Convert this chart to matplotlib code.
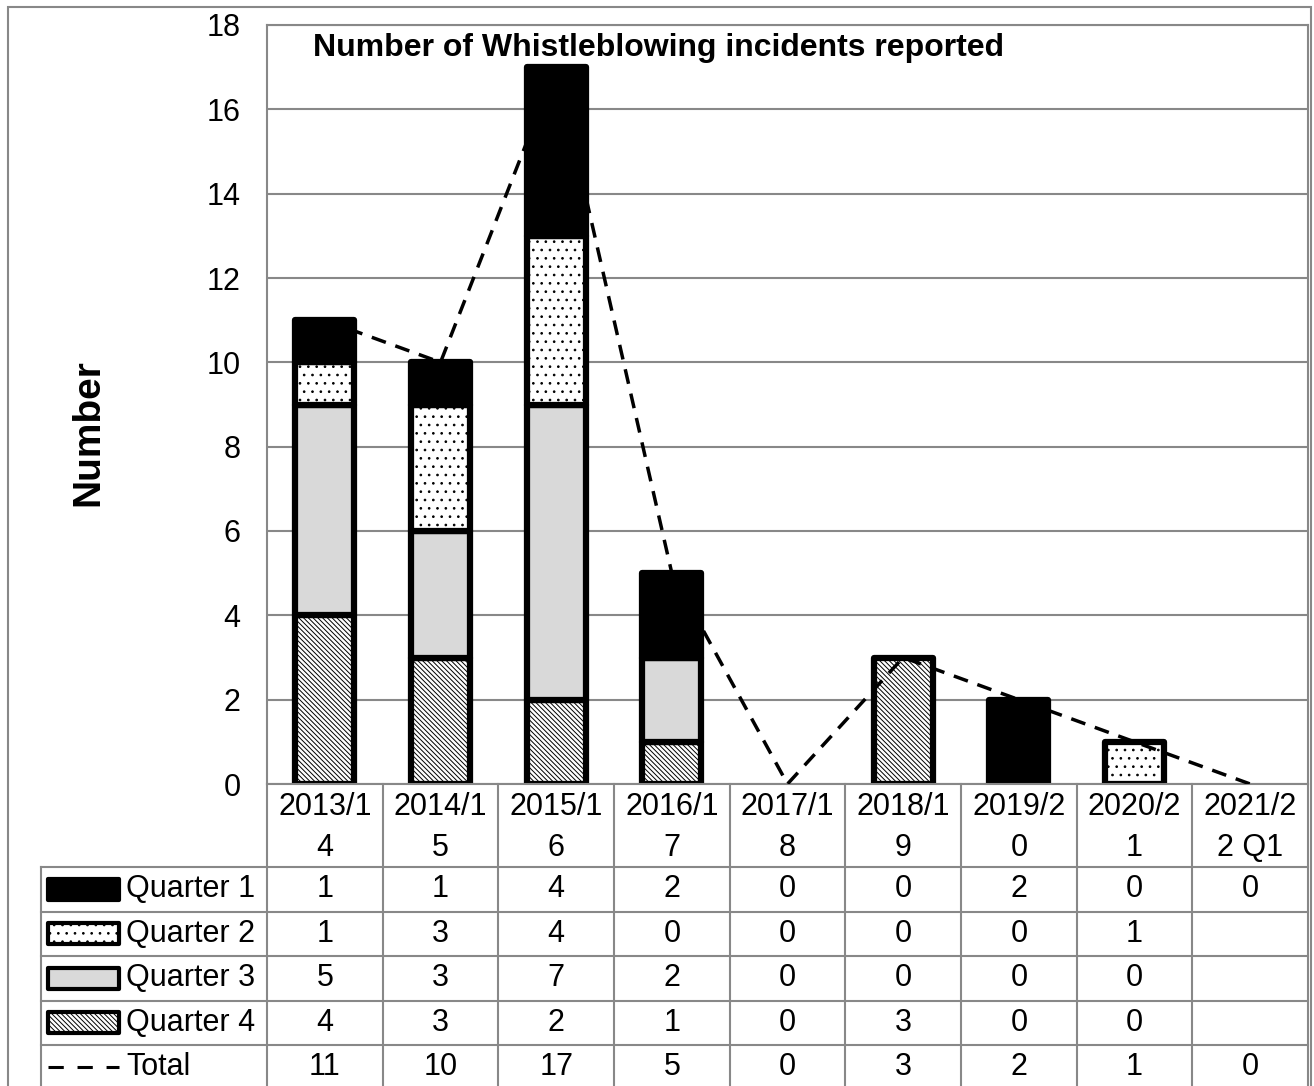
import numpy as np
import matplotlib
matplotlib.use('Agg')
import matplotlib.pyplot as plt
from matplotlib.patches import Rectangle
from matplotlib.lines import Line2D
from matplotlib.transforms import blended_transform_factory

plt.rcParams['font.family'] = ['Liberation Sans', 'DejaVu Sans']
plt.rcParams['hatch.linewidth'] = 0.7

years = ['2013/14', '2014/15', '2015/16', '2016/17', '2017/18',
         '2018/19', '2019/20', '2020/21', '2021/22 Q1']
q1 = [1, 1, 4, 2, 0, 0, 2, 0, 0]
q2 = [1, 3, 4, 0, 0, 0, 0, 1, None]
q3 = [5, 3, 7, 2, 0, 0, 0, 0, None]
q4 = [4, 3, 2, 1, 0, 3, 0, 0, None]
total = [11, 10, 17, 5, 0, 3, 2, 1, 0]

series_names = ['Quarter 1', 'Quarter 2', 'Quarter 3', 'Quarter 4']
series_vals = [q1, q2, q3, q4]
faces = ['black', 'white', '#d9d9d9', 'white']
hatches = [None, '..', None, '\\' * 7]

W, H = 1314, 1086
fig = plt.figure(figsize=(W / 100, H / 100), dpi=100)
GRAY = '#888888'
FS = 22

# plot area (pixel layout of the original)
left, right, top, bottom = 267, 1308, 25, 784
ax = fig.add_axes([left / W, 1 - bottom / H, (right - left) / W, (bottom - top) / H])
x = np.arange(len(years))
ax.set_xlim(-0.5, len(years) - 0.5)
ax.set_ylim(0, 18)
ax.set_yticks(np.arange(0, 19, 2))
ax.set_xticks([])
ax.tick_params(axis='y', length=0, labelsize=FS, pad=19)
ax.grid(axis='y', color=GRAY, lw=1.5)
ax.set_axisbelow(True)
for s in ax.spines.values():
    s.set_color(GRAY)
    s.set_linewidth(1.5)

# stacked bars: Quarter 4 at the bottom, Quarter 1 on top
stack_order = [3, 2, 1, 0]
base = np.zeros(len(years))
for k in stack_order:
    vals = np.array([v if v is not None else 0 for v in series_vals[k]], dtype=float)
    for i in range(len(years)):
        if vals[i] > 0:
            ax.bar(x[i], vals[i], bottom=base[i], width=0.51, color=faces[k],
                   edgecolor='black', linewidth=4.5, hatch=hatches[k],
                   joinstyle='round', zorder=2)
    base += vals

# total line
ax.plot(x, total, color='black', lw=2.5, linestyle=(0, (4.3, 2.9)), zorder=3)

fig.text(313 / W, 1 - 48 / H, 'Number of Whistleblowing incidents reported',
         fontsize=23, fontweight='bold', ha='left', va='center')
fig.text(88 / W, 1 - 433 / H, 'Number', fontsize=28, fontweight='bold',
         rotation=90, ha='center', va='center')

# data table below the plot
tr = blended_transform_factory(ax.transData, fig.transFigure)
def fy(py):
    return 1 - py / H

cat_bottom = 867
row_h = 44.5
rows_top = [cat_bottom + r * row_h for r in range(5)]
leg_left = -2.453
xr = len(years) - 0.5

lk = dict(color=GRAY, lw=1.5, transform=tr, clip_on=False)
for r in range(6):
    yy = fy(cat_bottom + r * row_h)
    fig.add_artist(Line2D([leg_left, xr], [yy, yy], **lk))
for i in range(len(years) + 1):
    fig.add_artist(Line2D([i - 0.5, i - 0.5], [fy(bottom), fy(H + 5)], **lk))
fig.add_artist(Line2D([leg_left, leg_left], [fy(cat_bottom), fy(H + 5)], **lk))

# category labels, wrapped as in the original cells
for i, yr in enumerate(years):
    lab = yr[:6] + '\n' + yr[6:]
    fig.text(i, fy((bottom + cat_bottom) / 2 + 2), lab, transform=tr, fontsize=FS,
             ha='center', va='center', linespacing=1.5)

row_series = series_vals + [total]
row_names = series_names + ['Total']
for r, (name, vals) in enumerate(zip(row_names, row_series)):
    yc = fy(rows_top[r] + row_h / 2)
    for i, v in enumerate(vals):
        if v is not None:
            fig.text(i, yc, str(v), transform=tr, fontsize=FS, ha='center', va='center')
    fig.text(-1.719, yc, name, transform=tr, fontsize=FS, ha='left', va='center')
    kx0, kx1 = -2.393, -1.779
    if r < 4:
        kh = 21 / H
        fig.add_artist(Rectangle((kx0, yc - kh / 2), kx1 - kx0, kh, transform=tr,
                                 facecolor=faces[r], edgecolor='black', lw=3,
                                 hatch=hatches[r], joinstyle='round'))
    else:
        fig.add_artist(Line2D([kx0, kx1], [yc, yc], color='black', lw=2.2,
                              linestyle=(0, (5, 4.5)), transform=tr))

# outer chart border
fig.add_artist(Rectangle((8 / W, fy(H + 10)), (1311 - 8) / W, (H + 10 - 7) / H,
                         transform=fig.transFigure, fill=False, edgecolor=GRAY, lw=1.5))

fig.savefig('out.png', dpi=100)
